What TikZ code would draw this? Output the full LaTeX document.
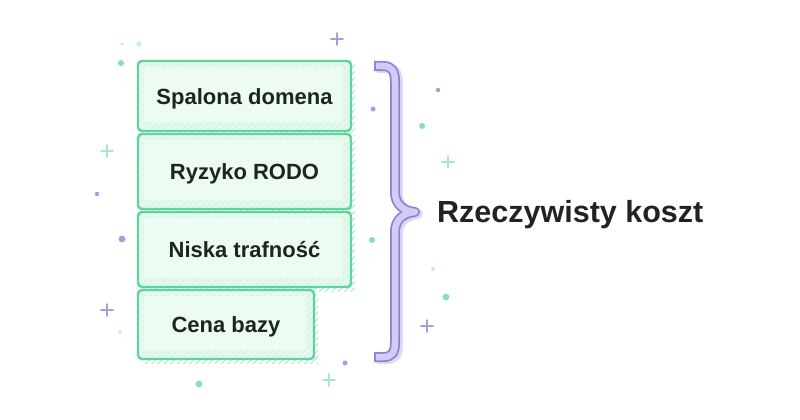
\documentclass[tikz,border=0pt]{standalone}
\usepackage{fontspec}
\setmainfont{Liberation Sans}
\usetikzlibrary{patterns.meta}
\definecolor{boxline}{HTML}{5FD49C}
\definecolor{boxfill}{HTML}{DDF8EA}
\definecolor{boxinner}{HTML}{ECFCF3}
\definecolor{hatch}{HTML}{A9E9CB}
\definecolor{txt}{HTML}{1F2421}
\definecolor{brdark}{HTML}{8E80D6}
\definecolor{brlight}{HTML}{D3CBF4}
\definecolor{brshadow}{HTML}{C9C0F0}
\definecolor{dotgreen}{HTML}{86DFB7}
\definecolor{dotlgreen}{HTML}{C2F0DB}
\definecolor{dotpurple}{HTML}{A89CDF}
\definecolor{plusgreen}{HTML}{A6EACB}
\definecolor{pluspurple}{HTML}{A89CDF}
\tikzset{
  costbox/.style={draw=boxline, line width=2.4pt, rounded corners=4pt,
    inner sep=0pt, outer sep=0pt, text=txt, font=\bfseries\fontsize{22}{24}\selectfont,
    text height=16pt, text depth=0pt},
  shadowbox/.style={pattern={Lines[angle=45,distance=4.5pt,line width=0.9pt]}, pattern color=hatch},
  plusmark/.style={line width=1.8pt, line cap=round},
}
\newcommand{\costitem}[6]{%
  \fill[shadowbox] (#2+4,#3+4) rectangle (#4+4,#5+4);
  \fill[boxfill, fill opacity=0.75, rounded corners=4pt] (#2,#3) rectangle (#4,#5);
  \fill[boxinner] (#2+6,#3+6) rectangle (#4-8,#5-9);
  \node[costbox, minimum width=#4-#2, minimum height=#5-#3] (#1) at ({(#2+#4)/2},{(#3+#5)/2}) {#6};
}
\newcommand{\plusat}[3]{%
  \draw[plusmark,#3] (#1-6,#2) -- (#1+6,#2);
  \draw[plusmark,#3] (#1,#2-6) -- (#1,#2+6);
}
\begin{document}
\begin{tikzpicture}[x=1pt,y=-1pt]
\useasboundingbox (0,0) rectangle (800,420);
\fill[white] (0,0) rectangle (800,420);
% decorations
\fill[dotlgreen] (122,44) circle (1.8);
\fill[dotlgreen] (139,44) circle (2.6);
\fill[dotgreen] (121,63) circle (3);
\fill[dotpurple] (373,109) circle (2.5);
\fill[dotpurple] (438,90) circle (2.2);
\fill[dotgreen] (422,126) circle (3);
\fill[dotpurple] (97,194) circle (2.2);
\fill[dotpurple] (122,239) circle (3.4);
\fill[dotgreen] (372,240) circle (3);
\fill[dotlgreen] (433,269) circle (2);
\fill[dotgreen] (446,297) circle (3.4);
\fill[dotlgreen] (120,332) circle (2);
\fill[dotgreen] (199,384) circle (3.4);
\fill[dotpurple] (345,363) circle (2.5);
\plusat{337}{39}{pluspurple}
\plusat{107}{151}{plusgreen}
\plusat{448}{162}{plusgreen}
\plusat{107}{310}{pluspurple}
\plusat{427}{326}{pluspurple}
\plusat{329}{380}{plusgreen}
% boxes
\costitem{b1}{138}{61}{351}{131}{Spalona domena}
\costitem{b2}{138}{134}{351}{209}{Ryzyko RODO}
\costitem{b3}{138}{212}{351}{287}{Niska trafność}
\costitem{b4}{138}{290}{314}{359}{Cena bazy}
% brace
\def\bracepath{(374,66) -- (383,66) .. controls (392,66) and (395,71) .. (395,82) -- (395,192) .. controls (395,204) and (403,211) .. (415,212) .. controls (403,213) and (395,220) .. (395,232) -- (395,342) .. controls (395,353) and (392,357) .. (383,357) -- (374,357)}
\begin{scope}[shift={(3,2)}]
\draw[brshadow, opacity=0.6, line width=10pt, line join=round] \bracepath;
\end{scope}
\draw[brdark, line width=10pt, line join=round] \bracepath;
\draw[brlight, line width=6.5pt, line join=round, shorten <=1.8pt, shorten >=1.8pt] \bracepath;
% label
\node[anchor=base west, inner sep=0pt, text=txt, font=\bfseries\fontsize{30.5}{34}\selectfont] (total) at (437,222) {Rzeczywisty koszt};
\end{tikzpicture}
\end{document}
